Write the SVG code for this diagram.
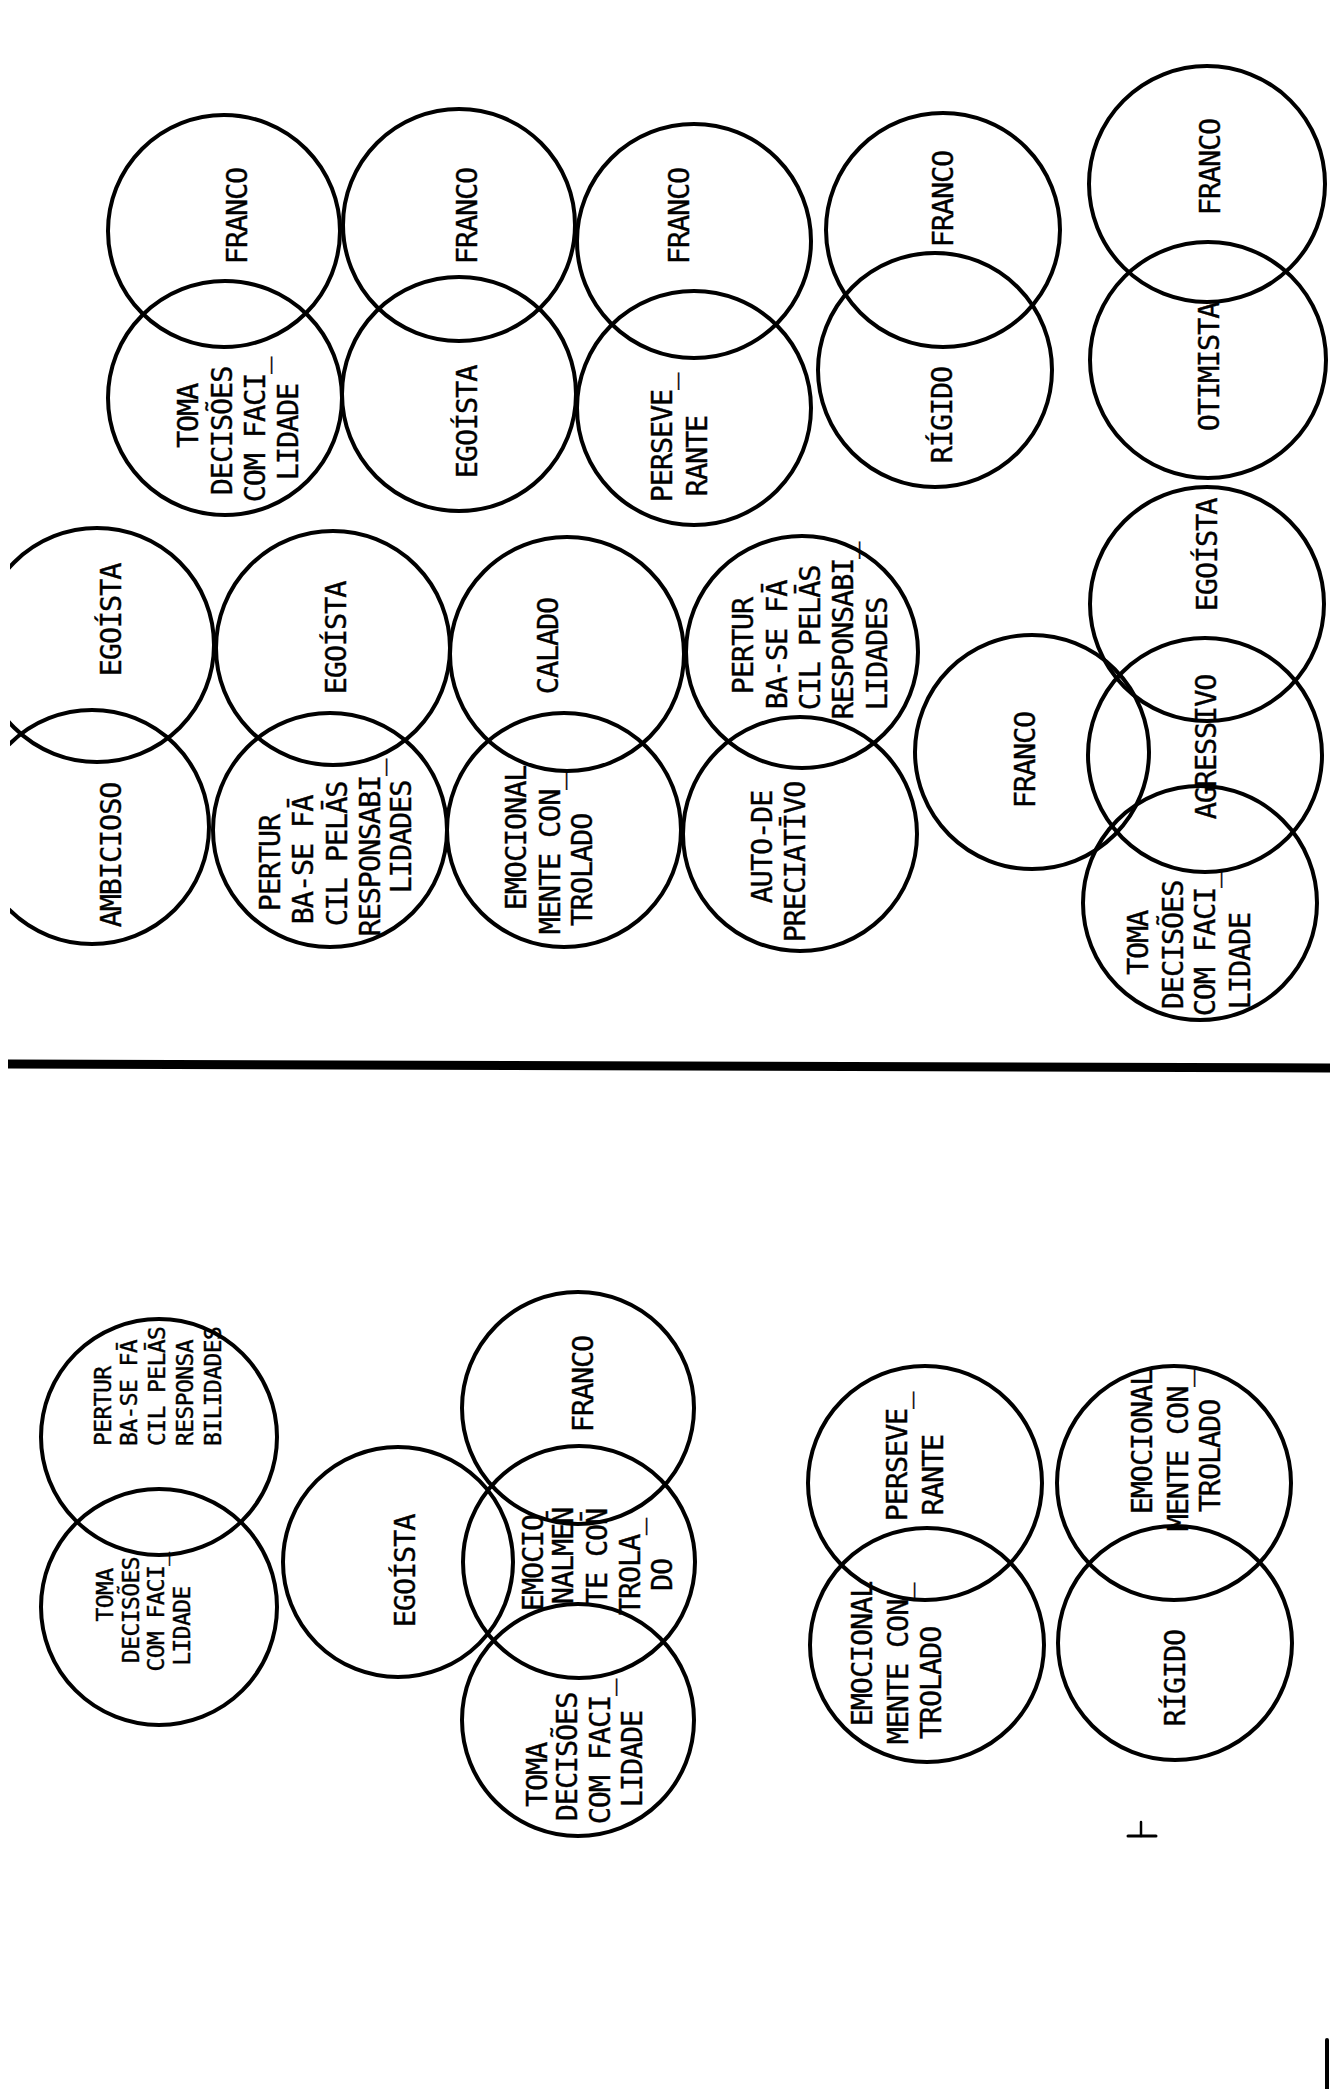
<svg xmlns="http://www.w3.org/2000/svg" width="1330" height="2089" viewBox="0 0 1330 2089">
<style>
.c{fill:none;stroke:#000;stroke-width:4}
.t{font-family:'DejaVu Sans Mono','Liberation Mono',monospace;font-size:28.5px;letter-spacing:-1.1px;text-anchor:middle;dominant-baseline:central;fill:#000;stroke:#000;stroke-width:0.4}
.sm{font-size:23px;letter-spacing:-0.6px}
.s{text-anchor:start}
.m{stroke:#000;fill:none;stroke-linecap:round}
</style>
<defs>
<clipPath id="edge"><rect x="10" y="0" width="1320" height="2089"/></clipPath>
</defs>
<rect width="1330" height="2089" fill="#fff"/>

<g id="n1"><circle class="c" cx="224" cy="231" r="116"/><text class="t" transform="translate(237,216) rotate(-90)">FRANCO</text></g>
<g id="n2"><circle class="c" cx="225" cy="398" r="117"/>
<text class="t" transform="translate(188,416) rotate(-90)">TOMA</text>
<text class="t" transform="translate(222,431) rotate(-90)">DECISÕES</text>
<text class="t" transform="translate(255,430) rotate(-90)">COM FACI_</text>
<text class="t" transform="translate(288,432) rotate(-90)">LIDADE</text></g>
<g id="n3"><circle class="c" cx="459" cy="225" r="116"/><text class="t" transform="translate(467,216) rotate(-90)">FRANCO</text></g>
<g id="n4"><circle class="c" cx="459" cy="394" r="117"/><text class="t" transform="translate(467,422) rotate(-90)">EGOÍSTA</text></g>
<g id="n5"><circle class="c" cx="694" cy="241" r="117"/><text class="t" transform="translate(679,216) rotate(-90)">FRANCO</text></g>
<g id="n6"><circle class="c" cx="694" cy="408" r="117"/>
<text class="t" transform="translate(662,438) rotate(-90)">PERSEVE_</text>
<text class="t" transform="translate(697,456) rotate(-90)">RANTE</text></g>
<g id="n7"><circle class="c" cx="943" cy="230" r="117"/><text class="t" transform="translate(943,199) rotate(-90)">FRANCO</text></g>
<g id="n8"><circle class="c" cx="935" cy="370" r="117"/><text class="t" transform="translate(942,415) rotate(-90)">RÍGIDO</text></g>
<g id="n9"><circle class="c" cx="1207" cy="184" r="118"/><text class="t" transform="translate(1210,167) rotate(-90)">FRANCO</text></g>
<g id="n10"><circle class="c" cx="1208" cy="360" r="118"/><text class="t" transform="translate(1209,367) rotate(-90)">OTIMISTA</text></g>

<g id="n11"><circle class="c" cx="97" cy="645" r="117" clip-path="url(#edge)"/><text class="t" transform="translate(111,620) rotate(-90)">EGOÍSTA</text></g>
<g id="n12"><circle class="c" cx="92" cy="827" r="117" clip-path="url(#edge)"/><text class="t" transform="translate(111,855) rotate(-90)">AMBICIOSO</text></g>
<g id="n13"><circle class="c" cx="333" cy="648" r="117"/><text class="t" transform="translate(336,638) rotate(-90)">EGOÍSTA</text></g>
<g id="n14"><circle class="c" cx="330" cy="830" r="117"/>
<text class="t" transform="translate(270,863) rotate(-90)">PERTUR</text>
<text class="t" transform="translate(303,860) rotate(-90)">BA-SE FĀ</text>
<text class="t" transform="translate(337,854) rotate(-90)">CIL PELĀS</text>
<text class="t" transform="translate(370,848) rotate(-90)">RESPONSABI_</text>
<text class="t" transform="translate(401,837) rotate(-90)">LIDADES</text></g>
<g id="n15"><circle class="c" cx="567" cy="654" r="117"/><text class="t" transform="translate(548,646) rotate(-90)">CALADO</text></g>
<g id="n16"><circle class="c" cx="564" cy="830" r="117"/>
<text class="t" transform="translate(516,838) rotate(-90)">EMOCIONAL</text>
<text class="t" transform="translate(550,854) rotate(-90)">MENTE CON_</text>
<text class="t" transform="translate(582,870) rotate(-90)">TROLADO</text></g>
<g id="n17"><circle class="c" cx="802" cy="652" r="116"/>
<text class="t" transform="translate(743,646) rotate(-90)">PERTUR</text>
<text class="t" transform="translate(777,645) rotate(-90)">BA-SE FĀ</text>
<text class="t" transform="translate(810,638) rotate(-90)">CIL PELĀS</text>
<text class="t" transform="translate(843,631) rotate(-90)">RESPONSABI_</text>
<text class="t" transform="translate(877,654) rotate(-90)">LIDADES</text></g>
<g id="n18"><circle class="c" cx="800" cy="834" r="117"/>
<text class="t" transform="translate(762,847) rotate(-90)">AUTO-DE</text>
<text class="t" transform="translate(795,862) rotate(-90)">PRECIATĪVO</text></g>
<g id="n19"><circle class="c" cx="1032" cy="752" r="117"/><text class="t" transform="translate(1025,760) rotate(-90)">FRANCO</text></g>
<g id="n20"><circle class="c" cx="1207" cy="604" r="117"/><text class="t" transform="translate(1207,555) rotate(-90)">EGOÍSTA</text></g>
<g id="n21"><circle class="c" cx="1205" cy="755" r="117"/><text class="t" transform="translate(1206,747) rotate(-90)">AGRESSIVO</text></g>
<g id="n22"><circle class="c" cx="1200" cy="903" r="117"/>
<text class="t" transform="translate(1138,943) rotate(-90)">TOMA</text>
<text class="t" transform="translate(1173,945) rotate(-90)">DECISÕES</text>
<text class="t" transform="translate(1205,944) rotate(-90)">COM FACI_</text>
<text class="t" transform="translate(1240,961) rotate(-90)">LIDADE</text></g>

<g id="divider"><line x1="8" y1="1064" x2="1330" y2="1068" stroke="#000" stroke-width="9"/></g>

<g id="n23"><circle class="c" cx="159" cy="1437" r="118"/>
<text class="t sm s" transform="translate(103,1446) rotate(-90)">PERTUR</text>
<text class="t sm s" transform="translate(129,1446) rotate(-90)">BA-SE FĀ</text>
<text class="t sm s" transform="translate(157,1446) rotate(-90)">CIL PELĀS</text>
<text class="t sm s" transform="translate(185,1446) rotate(-90)">RESPONSA</text>
<text class="t sm s" transform="translate(213,1446) rotate(-90)">BILIDADES</text></g>
<g id="n24"><circle class="c" cx="159" cy="1607" r="118"/>
<text class="t sm" transform="translate(105,1595) rotate(-90)">TOMA</text>
<text class="t sm" transform="translate(131,1610) rotate(-90)">DECISÕES</text>
<text class="t sm" transform="translate(156,1612) rotate(-90)">COM FACI_</text>
<text class="t sm" transform="translate(182,1626) rotate(-90)">LIDADE</text></g>
<g id="n25"><circle class="c" cx="398" cy="1562" r="115"/><text class="t" transform="translate(405,1571) rotate(-90)">EGOÍSTA</text></g>
<g id="n26"><circle class="c" cx="578" cy="1408" r="116"/><text class="t" transform="translate(583,1384) rotate(-90)">FRANCO</text></g>
<g id="n27"><circle class="c" cx="579" cy="1562" r="116"/>
<text class="t" transform="translate(533,1563) rotate(-90)">EMOCIO</text>
<text class="t" transform="translate(563,1556) rotate(-90)">NALMEN̄</text>
<text class="t" transform="translate(597,1557) rotate(-90)">TE CON̄</text>
<text class="t" transform="translate(630,1567) rotate(-90)">TROLA_</text>
<text class="t" transform="translate(662,1575) rotate(-90)">DO</text></g>
<g id="n28"><circle class="c" cx="578" cy="1720" r="116"/>
<text class="t" transform="translate(537,1775) rotate(-90)">TOMA</text>
<text class="t" transform="translate(567,1757) rotate(-90)">DECISÕES</text>
<text class="t" transform="translate(600,1752) rotate(-90)">COM FACI_</text>
<text class="t" transform="translate(632,1759) rotate(-90)">LIDADE</text></g>
<g id="n29"><circle class="c" cx="925" cy="1483" r="117"/>
<text class="t" transform="translate(897,1457) rotate(-90)">PERSEVE_</text>
<text class="t" transform="translate(933,1475) rotate(-90)">RANTE</text></g>
<g id="n30"><circle class="c" cx="927" cy="1645" r="117"/>
<text class="t" transform="translate(862,1654) rotate(-90)">EMOCIONAL</text>
<text class="t" transform="translate(898,1664) rotate(-90)">MENTE CON_</text>
<text class="t" transform="translate(931,1683) rotate(-90)">TROLADO</text></g>
<g id="n31"><circle class="c" cx="1174" cy="1483" r="117"/>
<text class="t" transform="translate(1142,1442) rotate(-90)">EMOCIONAL</text>
<text class="t" transform="translate(1178,1451) rotate(-90)">MENTE CON_</text>
<text class="t" transform="translate(1210,1456) rotate(-90)">TROLADO</text></g>
<g id="n32"><circle class="c" cx="1175" cy="1643" r="117"/><text class="t" transform="translate(1175,1678) rotate(-90)">RÍGIDO</text></g>

<g id="marks">
<path class="m" d="M1128 1836 H1156" stroke-width="3"/>
<path class="m" d="M1141 1822 V1836" stroke-width="2.5"/>
<path class="m" d="M1327 2040 V2089" stroke-width="4"/>
</g>
</svg>
